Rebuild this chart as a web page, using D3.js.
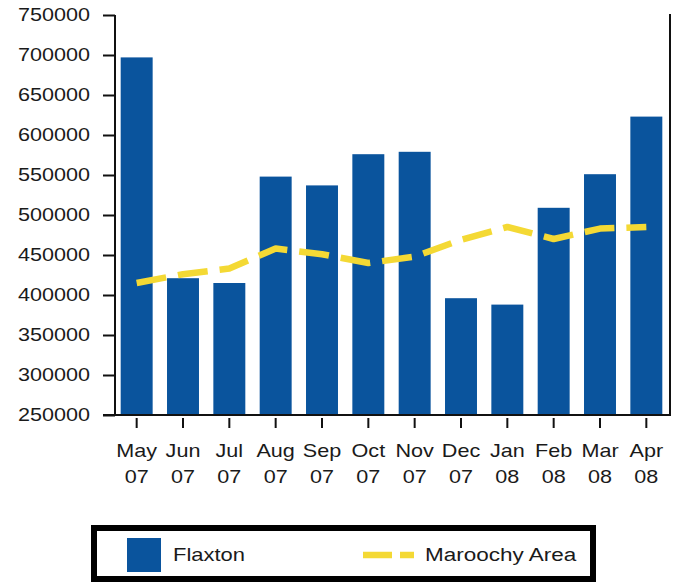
<!DOCTYPE html>
<html lang="en">
<head>
    <meta charset="UTF-8"/>
    <title>Flaxton vs Maroochy Area</title>
    <script src="https://d3js.org/d3.v7.min.js"></script>
    <style>
        body { margin: 0; background: #fff; }
        text { font-family: "Liberation Sans", Arial, sans-serif; fill: #1a1a1a; }
    </style>
</head>
<body>
    <script>
        // data
        var months = ["May", "Jun", "Jul", "Aug", "Sep", "Oct", "Nov", "Dec", "Jan", "Feb", "Mar", "Apr"];
        var years = ["07", "07", "07", "07", "07", "07", "07", "07", "08", "08", "08", "08"];
        var flaxton = [697000, 421000, 415000, 548000, 537000, 576000, 579000, 396000, 388000, 509000, 551000, 623000];
        var maroochy = [415000, 426000, 433000, 458000, 451000, 440000, 448000, 469000, 485000, 470000, 483000, 485000];
        var yTicks = [250000, 300000, 350000, 400000, 450000, 500000, 550000, 600000, 650000, 700000, 750000];

        var w = 675;
        var h = 582;
        var plotLeft = 115, plotRight = 670, plotTop = 15, plotBottom = 415;
        var sx = 1.2; // glyphs in the picture are stretched sideways

        var svg = d3.select("body")
                    .append("svg")
                    .attr("width", w)
                    .attr("height", h);

        var xScale = d3.scaleBand()
            .domain(months.map((m, i) => i))
            .range([113.5, 669.5])
            .paddingInner(0.31)
            .paddingOuter(0.155);

        var yScale = d3.scaleLinear()
            .domain([250000, 750000])
            .range([plotBottom, plotTop]);

        // bars
        svg.selectAll("rect.bar")
            .data(flaxton)
            .enter()
            .append("rect")
            .attr("class", "bar")
            .attr("x", (d, i) => xScale(i))
            .attr("y", d => yScale(d))
            .attr("width", xScale.bandwidth())
            .attr("height", d => plotBottom - yScale(d))
            .attr("fill", "#0a549d");

        // dashed line
        var line = d3.line()
            .x((d, i) => xScale(i) + xScale.bandwidth() / 2)
            .y(d => yScale(d));

        svg.append("path")
            .datum(maroochy)
            .attr("d", line)
            .attr("fill", "none")
            .attr("stroke", "#f4d934")
            .attr("stroke-width", 6.5)
            .attr("stroke-linejoin", "round")
            .attr("stroke-dasharray", "30,12");

        // y axis
        var yAxis = svg.append("g")
            .attr("transform", "translate(" + plotLeft + ",0)")
            .call(d3.axisLeft(yScale).tickValues(yTicks).tickSize(12).tickPadding(8.8).tickFormat(d3.format("d")));
        yAxis.select(".domain").remove();
        yAxis.selectAll("line").attr("stroke", "#111").attr("stroke-width", 2);
        yAxis.selectAll("text")
            .attr("font-size", "18px")
            .attr("transform", "scale(" + sx + ",1)");

        // frame lines
        svg.append("line").attr("x1", plotLeft).attr("x2", plotLeft).attr("y1", plotTop).attr("y2", plotBottom + 1)
            .attr("stroke", "#111").attr("stroke-width", 2);
        svg.append("line").attr("x1", plotRight).attr("x2", plotRight).attr("y1", plotTop - 1).attr("y2", plotBottom + 1)
            .attr("stroke", "#111").attr("stroke-width", 2);
        svg.append("line").attr("x1", plotLeft - 12).attr("x2", plotRight + 1).attr("y1", plotBottom).attr("y2", plotBottom)
            .attr("stroke", "#111").attr("stroke-width", 2);

        // x axis
        var xAxis = svg.append("g")
            .attr("transform", "translate(0," + (plotBottom + 3) + ")")
            .call(d3.axisBottom(xScale).tickSize(10).tickFormat(""));
        xAxis.select(".domain").remove();
        xAxis.selectAll("line").attr("stroke", "#111").attr("stroke-width", 2);
        xAxis.selectAll(".tick text").remove();
        xAxis.selectAll(".tick").each(function (d) {
            var t = d3.select(this).append("text")
                .attr("font-size", "18px")
                .attr("text-anchor", "middle")
                .attr("transform", "scale(" + sx + ",1)");
            t.append("tspan").attr("x", 0).attr("y", 39).text(months[d]);
            t.append("tspan").attr("x", 0).attr("y", 65).text(years[d]);
        });

        // legend
        var legend = svg.append("g");
        legend.append("rect")
            .attr("x", 94).attr("y", 528)
            .attr("width", 499).attr("height", 51)
            .attr("fill", "#fff")
            .attr("stroke", "#000")
            .attr("stroke-width", 6);
        legend.append("rect")
            .attr("x", 127).attr("y", 538)
            .attr("width", 34).attr("height", 34)
            .attr("fill", "#0a549d");
        legend.append("text")
            .attr("x", 173 / 1.22).attr("y", 561)
            .attr("font-size", "18px")
            .attr("transform", "scale(1.22,1)")
            .text("Flaxton");
        legend.append("line")
            .attr("x1", 363).attr("x2", 414)
            .attr("y1", 555).attr("y2", 555)
            .attr("stroke", "#f4d934")
            .attr("stroke-width", 6.5)
            .attr("stroke-dasharray", "29,8");
        legend.append("text")
            .attr("x", 425 / 1.25).attr("y", 561)
            .attr("font-size", "18px")
            .attr("transform", "scale(1.25,1)")
            .text("Maroochy Area");
    </script>
</body>
</html>
